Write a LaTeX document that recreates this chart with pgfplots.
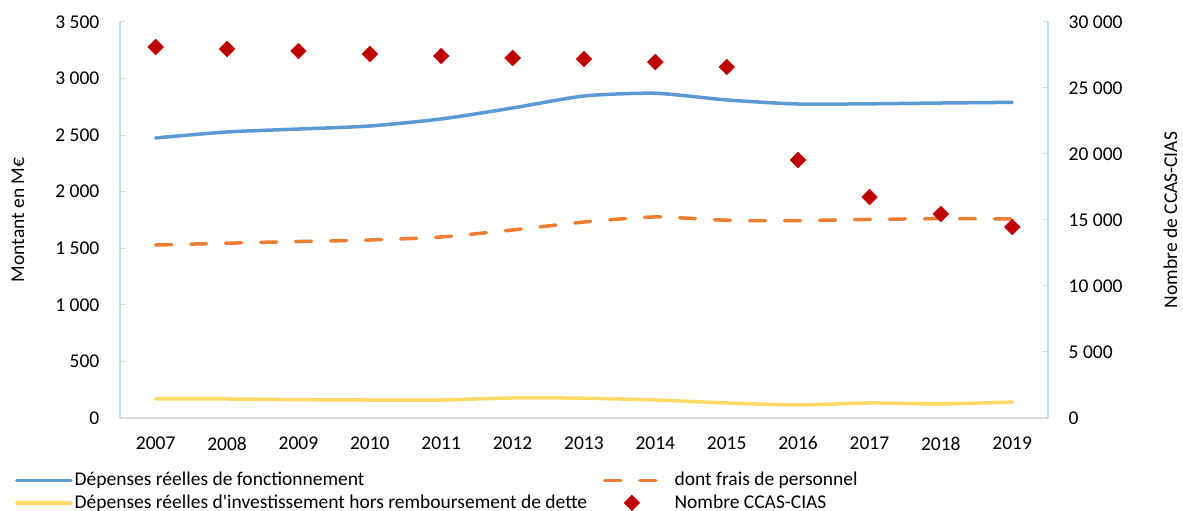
\documentclass[border=0pt]{standalone}
\usepackage{pgfplots}
\pgfplotsset{compat=1.18}
\usepackage{fontspec}
\setmainfont{Carlito}
\definecolor{cblue}{HTML}{5B9BD5}
\definecolor{corange}{HTML}{ED7D31}
\definecolor{cyellow}{HTML}{FFD966}
\definecolor{cred}{HTML}{C00000}
\definecolor{caxis}{HTML}{C5DCF0}
\definecolor{cgrid}{HTML}{D9D9D9}
\begin{document}
\fontsize{19.5bp}{23bp}\selectfont
\begin{tikzpicture}
\useasboundingbox (-120bp,-93bp) rectangle (1063bp,418bp);
\pgfplotsset{
  every axis/.append style={font=\fontsize{19.5bp}{23bp}\selectfont},
  legend image code/.code={\draw[mark repeat=2,mark phase=2,#1] plot coordinates {(0bp,0bp) (27bp,0bp) (54bp,0bp)};},
}
\begin{axis}[
  at={(0,0)}, anchor=south west,
  scale only axis, width=928bp, height=396bp,
  xmin=2006.5, xmax=2019.5, ymin=0, ymax=3500,
  axis x line*=bottom, axis y line*=left,
  x axis line style={-, draw=cgrid, line width=1.5bp},
  y axis line style={-, draw=caxis, line width=2bp},
  xtick={2007,...,2019},
  xticklabels={2007,2008,2009,2010,2011,2012,2013,2014,2015,2016,2017,2018,2019},
  ytick={0,500,...,3500},
  yticklabels={0,500,1 000,1 500,2 000,2 500,3 000,3 500},
  scaled y ticks=false,
  tick align=inside, major tick length=5bp,
  xtick style={draw=none},
  ytick style={draw=caxis, line width=1bp},
  xticklabel style={yshift=-12bp},
  yticklabel style={xshift=-14bp},
  every axis y label/.style={at={(axis description cs:-0.110,0.5)}, rotate=90, anchor=center},
  ylabel={Montant en M€},
  legend columns=2,
  legend cell align=left,
  legend style={at={(axis description cs:0,0)}, anchor=north west, xshift=-108bp, yshift=-50bp,
    draw=none, fill=none, row sep=2bp,
    /tikz/every even column/.append style={column sep=14bp},
    /tikz/column 3/.append style={column sep=12bp}},
]
\addplot[cblue, line width=3.5bp, line cap=round, smooth, tension=0.4] coordinates {
(2007,2475) (2008,2528) (2009,2554) (2010,2581) (2011,2643) (2012,2740) (2013,2846)
(2014,2870) (2015,2811) (2016,2775) (2017,2777) (2018,2784) (2019,2790)};
\addlegendentry{Dépenses réelles de fonctionnement}
\addplot[corange, line width=3.5bp, line cap=round, dash pattern=on 16bp off 19bp, smooth, tension=0.4] coordinates {
(2007,1529) (2008,1545) (2009,1560) (2010,1573) (2011,1600) (2012,1662) (2013,1732)
(2014,1777) (2015,1748) (2016,1745) (2017,1755) (2018,1762) (2019,1759)};
\addlegendentry{dont frais de personnel}
\addplot[cyellow, line width=3.5bp, line cap=round, smooth, tension=0.4] coordinates {
(2007,168) (2008,168) (2009,162) (2010,159) (2011,159) (2012,177) (2013,175)
(2014,159) (2015,133) (2016,115) (2017,133) (2018,124) (2019,141)};
\addlegendentry{Dépenses réelles d\textquotesingle investissement hors remboursement de dette}
\addlegendimage{only marks, mark=square*, mark size=5.6bp, mark options={rotate=45, fill=cred, draw=cred}}
\addlegendentry{Nombre CCAS-CIAS}
\end{axis}
\begin{axis}[
  at={(0,0)}, anchor=south west,
  scale only axis, width=928bp, height=396bp,
  xmin=2006.5, xmax=2019.5, ymin=0, ymax=30000,
  axis y line*=right, axis x line=none,
  y axis line style={-, draw=caxis, line width=2bp},
  ytick={0,5000,...,30000},
  yticklabels={0,5 000,10 000,15 000,20 000,25 000,30 000},
  scaled y ticks=false,
  tick align=inside, major tick length=5bp,
  ytick style={draw=caxis, line width=1bp},
  yticklabel style={xshift=14bp},
  every axis y label/.style={at={(axis description cs:1.132,0.5)}, rotate=90, anchor=center},
  ylabel={Nombre de CCAS-CIAS},
]
\addplot[only marks, mark=square*, mark size=5.6bp, mark options={rotate=45, fill=cred, draw=cred}] coordinates {
(2007,28106) (2008,27955) (2009,27803) (2010,27576) (2011,27424) (2012,27273) (2013,27197)
(2014,26970) (2015,26591) (2016,19545) (2017,16742) (2018,15455) (2019,14470)};
\end{axis}
\end{tikzpicture}
\end{document}
